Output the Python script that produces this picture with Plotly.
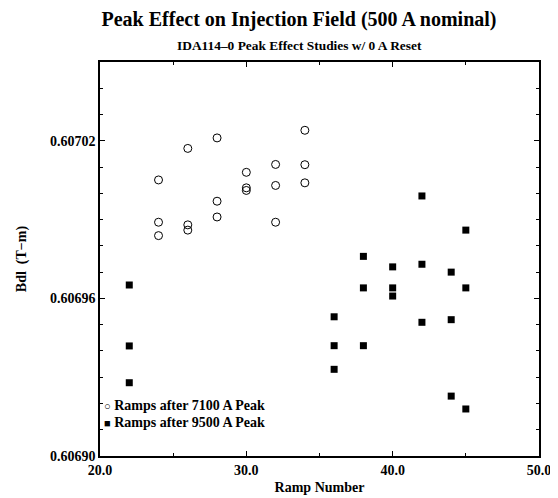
import plotly.graph_objects as go

# ramps after the 7100 A peak (open circles)
ramps_7100 = [24, 24, 24, 26, 26, 26, 28, 28, 28, 30, 30, 30, 32, 32, 32, 34, 34, 34]
bdl_7100 = [
    0.6070051, 0.6069890, 0.6069839,
    0.6070171, 0.6069880, 0.6069860,
    0.6070211, 0.6069970, 0.6069910,
    0.6070080, 0.6070021, 0.6070011,
    0.6070110, 0.6070030, 0.6069890,
    0.6070240, 0.6070109, 0.6070040,
]

# ramps after the 9500 A peak (filled squares)
ramps_9500 = [22, 22, 22, 36, 36, 36, 38, 38, 38, 40, 40, 40, 42, 42, 42, 44, 44, 44, 45, 45, 45]
bdl_9500 = [
    0.6069651, 0.6069419, 0.6069279,
    0.6069530, 0.6069420, 0.6069330,
    0.6069760, 0.6069640, 0.6069420,
    0.6069720, 0.6069640, 0.6069609,
    0.6069990, 0.6069730, 0.6069509,
    0.6069700, 0.6069519, 0.6069228,
    0.6069860, 0.6069640, 0.6069179,
]

x_ticks = [20, 30, 40, 50]
x_tick_text = ["20.0", "30.0", "40.0", "50.0"]
y_ticks = [0.60690, 0.60696, 0.60702]
y_tick_text = ["0.60690", "0.60696", "0.60702"]

serif = "Liberation Serif, Times New Roman, serif"

fig = go.Figure()

fig.add_trace(go.Scatter(
    x=ramps_7100, y=bdl_7100, mode="markers",
    marker=dict(symbol="circle-open", size=8, color="black", line=dict(width=1, color="black")),
    showlegend=False,
))
fig.add_trace(go.Scatter(
    x=ramps_9500, y=bdl_9500, mode="markers",
    marker=dict(symbol="square", size=7, color="black", line=dict(width=0)),
    showlegend=False,
))

axis_common = dict(
    showline=True, linecolor="black", linewidth=1.5, mirror="ticks",
    ticks="inside", ticklen=5, tickwidth=1, tickcolor="black",
    showgrid=False, zeroline=False, automargin=False,
    tickfont=dict(family=serif, size=14, color="black", weight="bold"),
)

fig.update_xaxes(
    range=[20, 50], tickmode="array", tickvals=x_ticks, ticktext=x_tick_text,
    minor=dict(dtick=5, tick0=20, ticks="inside", ticklen=3, tickcolor="black"),
    title=dict(text="Ramp Number", font=dict(family=serif, size=14, color="black", weight="bold"), standoff=6),
    **axis_common,
)
fig.update_yaxes(
    range=[0.60690, 0.60705], tickmode="array", tickvals=y_ticks, ticktext=y_tick_text,
    minor=dict(dtick=0.00001, tick0=0.6069, ticks="inside", ticklen=3, tickcolor="black"),
    title=dict(text="Bdl  (T\u2212m)", font=dict(family=serif, size=14, color="black", weight="bold"), standoff=20),
    **axis_common,
)

# hand-made legend, bottom-left inside the frame
legend_lines = [
    "<span style='font-size:11px'>\u25cb</span> Ramps after 7100 A Peak",
    "<span style='font-size:11px'>\u25a0</span> Ramps after 9500 A Peak",
]
for i, line in enumerate(legend_lines):
    fig.add_annotation(
        x=0.005, y=0.129 - i * 0.045, xref="paper", yref="paper",
        xanchor="left", yanchor="middle", showarrow=False, align="left",
        text=line, font=dict(family=serif, size=14, color="black", weight="bold"),
    )

fig.add_annotation(
    x=0.4544, y=1.043, xref="paper", yref="paper", xanchor="center", yanchor="middle",
    showarrow=False, text="IDA114\u20130 Peak Effect Studies w/ 0 A Reset",
    font=dict(family=serif, size=13.4, color="black", weight="bold"),
)

# the page body adds an 8 px offset, so the figure is 8 px smaller
fig.update_layout(
    width=550, height=490,
    margin=dict(l=92, r=19, t=54, b=42),
    paper_bgcolor="white", plot_bgcolor="white",
    title=dict(
        text="Peak Effect on Injection Field (500 A nominal)",
        x=291 / 550, xanchor="center", y=1 - 11 / 490, yanchor="middle", yref="container",
        font=dict(family=serif, size=20, color="black", weight="bold"),
    ),
)

fig.write_html("out.html")
